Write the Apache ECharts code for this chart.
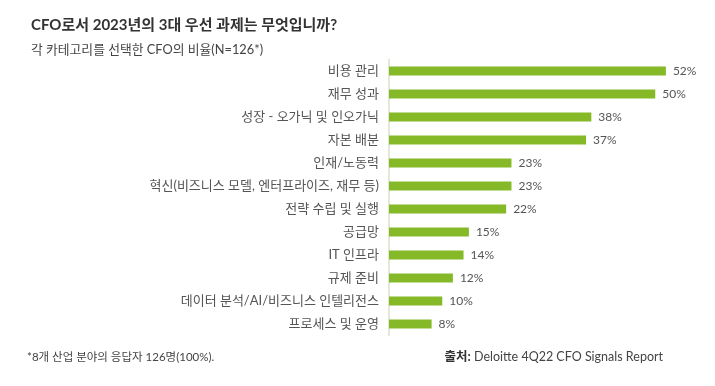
<!DOCTYPE html>
<html><head><meta charset="utf-8">
<script src="https://cdn.jsdelivr.net/npm/echarts@6/dist/echarts.min.js"></script>
<style>html,body{margin:0;padding:0;background:#fff}#c{width:715px;height:386px}</style>
</head><body><div id="c"></div>
<script>
const categories = ["비용 관리","재무 성과","성장 - 오가닉 및 인오가닉","자본 배분","인재/노동력","혁신(비즈니스 모델, 엔터프라이즈, 재무 등)","전략 수립 및 실행","공급망","IT 인프라","규제 준비","데이터 분석/AI/비즈니스 인텔리전스","프로세스 및 운영"];
const values = [52,50,38,37,23,23,22,15,14,12,10,8];
const titleText = "CFO로서 2023년의 3대 우선 과제는 무엇입니까?";
const subtitleText = "각 카테고리를 선택한 CFO의 비율(N=126*)";
const footnoteText = "*8개 산업 분야의 응답자 126명(100%).";
const sourceLabel = "출처:";
const sourceText = " Deloitte 4Q22 CFO Signals Report";

const FONT = 'Lato, "Noto Sans CJK KR", sans-serif';
const chart = echarts.init(document.getElementById('c'), null, {renderer:'canvas'});
chart.setOption({
  animation:false,
  backgroundColor:'#fff',
  title:[
    {text:titleText, left:26, top:13, textStyle:{fontFamily:FONT, fontSize:15, fontWeight:'bold', color:'#333'}},
    {text:subtitleText, left:26, top:38, textStyle:{fontFamily:FONT, fontSize:12.8, fontWeight:'normal', color:'#444'}}
  ],
  graphic:[
    {type:'text', left:27, top:352, style:{text:footnoteText, fontFamily:FONT, fontSize:11.5, fill:'#444'}},
    {type:'text', right:52, top:351, style:{
      text:'{b|'+sourceLabel+'}{n|'+sourceText+'}',
      rich:{b:{fontFamily:FONT, fontSize:12.5, fontWeight:'bold', fill:'#333'}, n:{fontFamily:FONT, fontSize:12.5, fill:'#444'}}
    }}
  ],
  grid:{left:389, top:59.5, width:319.5, height:276},
  xAxis:{type:'value', min:0, max:60, show:false},
  yAxis:{type:'category', data:categories, inverse:true,
    axisLine:{show:true, lineStyle:{color:'#d9e2cf', width:1.5}},
    axisTick:{show:false},
    axisLabel:{fontFamily:FONT, fontSize:13, color:'#555', margin:10}
  },
  series:[{type:'bar', data:values, barWidth:9, itemStyle:{color:'#86b928'},
    label:{show:true, position:'right', distance:7, formatter:'{c}%', fontFamily:FONT, fontSize:12, color:'#555'}}]
});
</script></body></html>
